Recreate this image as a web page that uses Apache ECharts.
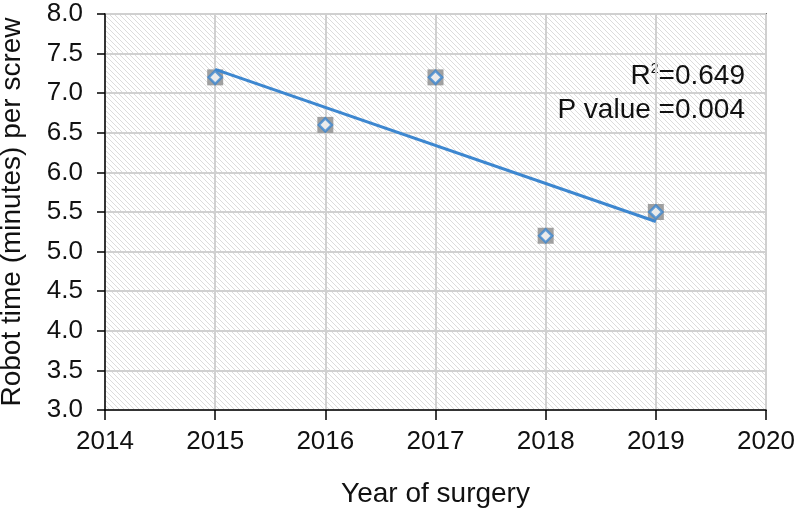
<!DOCTYPE html>
<html><head><meta charset="utf-8">
<script src="https://cdn.jsdelivr.net/npm/echarts@6/dist/echarts.min.js"></script>
<style>html,body{margin:0;padding:0;background:#fff}#c{width:799px;height:512px}</style>
</head><body><div id="c"></div>
<script>
const years = [2015, 2016, 2017, 2018, 2019];
const robotTime = [7.2, 6.6, 7.2, 5.2, 5.5];
const trendX = [2015, 2019];
const trendY = [7.30, 5.38];
const xTicks = [2014, 2015, 2016, 2017, 2018, 2019, 2020];
const yTicks = [3.0, 3.5, 4.0, 4.5, 5.0, 5.5, 6.0, 6.5, 7.0, 7.5, 8.0];
const rSquared = '0.649';
const pValue = '0.004';

const pts = years.map((y, i) => [y, robotTime[i]]);
const trend = trendX.map((x, i) => [x, trendY[i]]);

const T = 5;
const cv = document.createElement('canvas');
cv.width = T; cv.height = T;
const cx = cv.getContext('2d');
cx.fillStyle = '#ffffff'; cx.fillRect(0, 0, T, T);
cx.strokeStyle = '#dcdcdc'; cx.lineWidth = 1;
[[-1, -1, T + 1, T + 1], [-1, T - 1, 1, T + 1], [T - 1, -1, T + 1, 1]].forEach(l => {
  cx.beginPath(); cx.moveTo(l[0], l[1]); cx.lineTo(l[2], l[3]); cx.stroke();
});

const chart = echarts.init(document.getElementById('c'));
const font = 'Liberation Sans, Arial, sans-serif';
chart.setOption({
  animation: false,
  textStyle: { fontFamily: font },
  grid: { left: 105, right: 33, top: 14, bottom: 102, show: true, containLabel: false,
    outerBoundsMode: 'none',
    backgroundColor: { image: cv, repeat: 'repeat' }, borderColor: '#000', borderWidth: 1.5 },
  xAxis: { type: 'value', min: 2014, max: 2020, interval: 1,
    name: 'Year of surgery', nameLocation: 'middle', nameGap: 70,
    nameTextStyle: { fontSize: 28, color: '#111' },
    axisLine: { lineStyle: { color: '#000', width: 1.5 } },
    axisTick: { length: 10, lineStyle: { color: '#000', width: 1.5 } },
    axisLabel: { fontSize: 26, color: '#111', margin: 19, formatter: v => String(v) },
    splitLine: { lineStyle: { color: '#d0d0d0', width: 2 } } },
  yAxis: { type: 'value', min: 3, max: 8, interval: 0.5,
    name: 'Robot time (minutes) per screw', nameLocation: 'middle', nameGap: 79,
    nameTextStyle: { fontSize: 28, color: '#111' },
    axisLine: { lineStyle: { color: '#000', width: 1.5 } },
    axisTick: { length: 8, lineStyle: { color: '#000', width: 1.5 } },
    axisLabel: { fontSize: 26, color: '#111', margin: 22, formatter: v => v.toFixed(1) },
    splitLine: { lineStyle: { color: '#d0d0d0', width: 2 } } },
  graphic: [{
    type: 'text', right: 54, top: 62,
    style: { text: '{a|R}{s|2}{a|=' + rSquared + '}', textAlign: 'right', fill: '#111',
      rich: { a: { fontSize: 28, fontFamily: font }, s: { fontSize: 14, fontFamily: font, verticalAlign: 'top', padding: [0, 0, 14, 0] } } }
  }, {
    type: 'text', right: 54, top: 96,
    style: { text: 'P value =' + pValue, fontSize: 28, fontFamily: font, fill: '#111' }
  }],
  series: [
    { type: 'scatter', data: pts, symbol: 'rect', symbolSize: 16, z: 2,
      itemStyle: { color: '#8a8a8a' } },
    { type: 'line', data: trend, showSymbol: false, symbol: 'none', z: 3,
      lineStyle: { color: '#3d87d0', width: 3 } },
    { type: 'scatter', data: pts, symbol: 'diamond', symbolSize: 13, z: 4,
      itemStyle: { color: '#fff', borderColor: '#3d87d0', borderWidth: 2.5 } }
  ]
});
</script></body></html>
